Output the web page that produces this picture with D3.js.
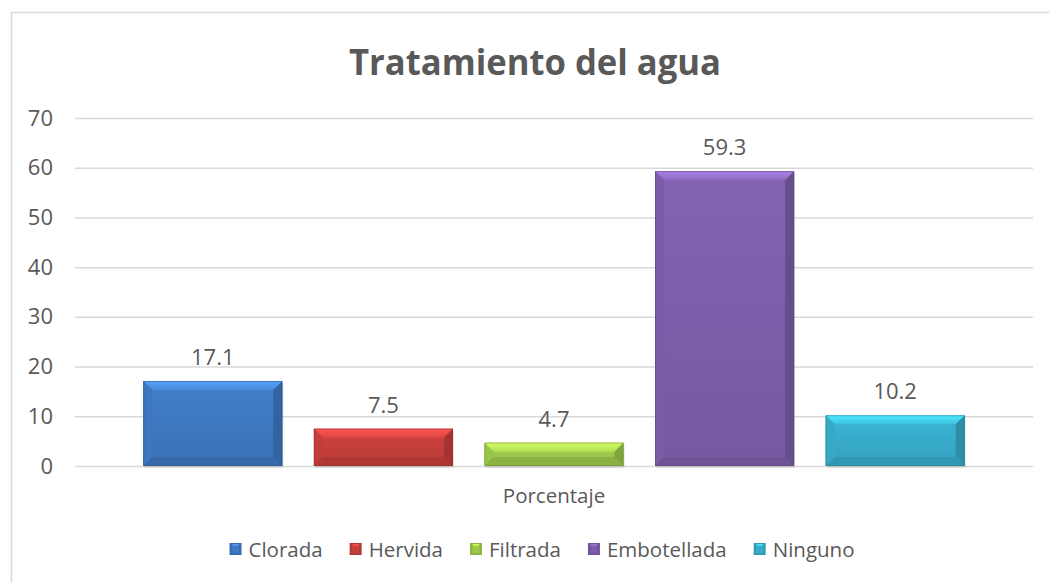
<!DOCTYPE html>
<html>
<head>
<meta charset="utf-8">
<script src="https://cdn.jsdelivr.net/npm/d3@7"></script>
<style>
  html, body { margin: 0; padding: 0; background: #fff; }
  svg { display: block; }
  text { font-family: "Open Sans", "Noto Sans", sans-serif; fill: #595959; }
</style>
</head>
<body>
<svg id="chart" width="1049" height="582"></svg>
<script>
const title = "Tratamiento del agua";
const categoryLabel = "Porcentaje";
const series = ["Clorada", "Hervida", "Filtrada", "Embotellada", "Ninguno"];
const values = [17.1, 7.5, 4.7, 59.3, 10.2];
const colors = ["#3f78c2", "#c63f3c", "#9cc94a", "#7e5eab", "#38accb"];
const yTicks = [0, 10, 20, 30, 40, 50, 60, 70];

const svg = d3.select("#chart");
const defs = svg.append("defs");

// chart border
svg.append("rect")
  .attr("x", 11.5).attr("y", 12.5)
  .attr("width", 1060).attr("height", 600)
  .attr("fill", "#fff").attr("stroke", "#d9d9d9").attr("stroke-width", 1.5);

const plotLeft = 75, plotRight = 1033;
const y = d3.scaleLinear().domain([0, 70]).range([466, 118]);
const x = d3.scaleBand().domain(series)
  .range([127.5, 980.5]).paddingInner(0.185).paddingOuter(0.0925);

// title
svg.append("text")
  .attr("x", 535).attr("y", 75)
  .attr("text-anchor", "middle")
  .attr("font-size", 36).attr("font-weight", 700)
  .attr("textLength", 372).attr("lengthAdjust", "spacingAndGlyphs")
  .text(title);

// gridlines
const yAxis = d3.axisLeft(y).tickValues(yTicks).tickSize(-(plotRight - plotLeft)).tickPadding(22);
const gAxis = svg.append("g").attr("transform", `translate(${plotLeft},0)`).call(yAxis);
gAxis.select(".domain").remove();
gAxis.selectAll(".tick line").attr("stroke", "#d9d9d9").attr("stroke-width", 1.5);
gAxis.selectAll(".tick text")
  .attr("font-size", 22).attr("fill", "#595959")
  .style("font-family", "'Open Sans', sans-serif");

// bars with bevel
const bev = 9;
series.forEach((s, i) => {
  const c = d3.color(colors[i]);
  const lg = defs.append("linearGradient").attr("id", "g" + i).attr("x1", 0).attr("y1", 0).attr("x2", 0).attr("y2", 1);
  lg.append("stop").attr("offset", "0%").attr("stop-color", c.brighter(0.15));
  lg.append("stop").attr("offset", "100%").attr("stop-color", c.darker(0.2));
  const tg = defs.append("linearGradient").attr("id", "t" + i).attr("x1", 0).attr("y1", 0).attr("x2", 0).attr("y2", 1);
  tg.append("stop").attr("offset", "0%").attr("stop-color", c.brighter(0.9));
  tg.append("stop").attr("offset", "100%").attr("stop-color", c.brighter(0.3));
});

svg.append("g").selectAll("g").data(series).join("g")
  .each(function(s, i) {
    const g = d3.select(this);
    const x0 = x(s), w = x.bandwidth();
    const y0 = y(values[i]), h = y(0) - y0;
    const b = Math.min(bev, h / 2);
    const c = d3.color(colors[i]);
    g.append("rect").attr("x", x0 + 1).attr("y", y0 + 2).attr("width", w).attr("height", h)
      .attr("fill", "#000").attr("opacity", 0.1);
    g.append("rect").attr("x", x0).attr("y", y0).attr("width", w).attr("height", h)
      .attr("fill", `url(#g${i})`);
    g.append("polygon").attr("points", [[x0, y0], [x0 + w, y0], [x0 + w - b, y0 + b], [x0 + b, y0 + b]].join(" "))
      .attr("fill", `url(#t${i})`);
    g.append("polygon").attr("points", [[x0, y0], [x0 + b, y0 + b], [x0 + b, y0 + h - b], [x0, y0 + h]].join(" "))
      .attr("fill", c.darker(0.05));
    g.append("polygon").attr("points", [[x0 + w, y0], [x0 + w - b, y0 + b], [x0 + w - b, y0 + h - b], [x0 + w, y0 + h]].join(" "))
      .attr("fill", c.darker(0.55));
    g.append("polygon").attr("points", [[x0, y0 + h], [x0 + b, y0 + h - b], [x0 + w - b, y0 + h - b], [x0 + w, y0 + h]].join(" "))
      .attr("fill", c.darker(0.35));
    g.append("rect").attr("x", x0 + 0.5).attr("y", y0 + 0.5).attr("width", w - 1).attr("height", h - 1)
      .attr("fill", "none").attr("stroke", c.darker(0.9)).attr("stroke-width", 1).attr("opacity", 0.55);
    g.append("text").attr("x", x0 + w / 2).attr("y", y0 - 16)
      .attr("text-anchor", "middle").attr("font-size", 22)
      .text(values[i]);
  });

// category label
svg.append("text").attr("x", (plotLeft + plotRight) / 2).attr("y", 503)
  .attr("text-anchor", "middle").attr("font-size", 20.5).text(categoryLabel);

// legend
const legend = svg.append("g");
const sq = 12, gapText = 7, gapItem = 27;
let cx = 0;
series.forEach((s, i) => {
  const it = legend.append("g").attr("transform", `translate(${cx},0)`);
  const c = d3.color(colors[i]);
  it.append("rect").attr("x", 0).attr("y", -sq / 2).attr("width", sq).attr("height", sq).attr("fill", c.darker(0.3));
  it.append("polygon").attr("points", [[2, -sq / 2 + 1], [sq - 2, -sq / 2 + 1], [sq / 2, 0]].join(" "))
    .attr("fill", c.brighter(0.6));
  it.append("rect").attr("x", 2.5).attr("y", -sq / 2 + 3).attr("width", sq - 5).attr("height", sq - 5).attr("fill", c);
  const t = it.append("text").attr("x", sq + gapText).attr("y", 7.5).attr("font-size", 20.5).text(s);
  cx += sq + gapText + t.node().getComputedTextLength() + gapItem;
});
const totalW = cx - gapItem;
legend.attr("transform", `translate(${542 - totalW / 2},549)`);
</script>
</body>
</html>
